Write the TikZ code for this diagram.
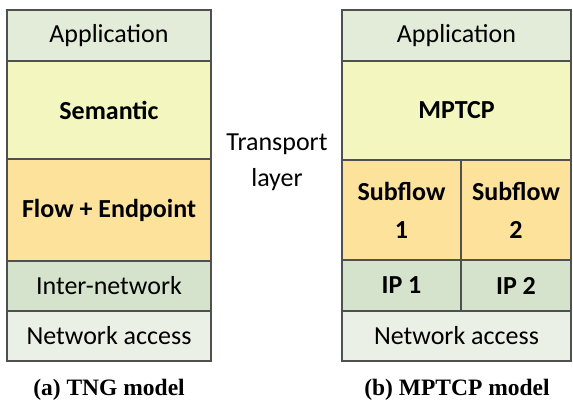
\documentclass[tikz,border=0pt]{standalone}
\usepackage{fontspec}
\setmainfont{Carlito}
\newfontfamily\capfont{Liberation Serif}
\definecolor{appc}{HTML}{E2ECD8}
\definecolor{semc}{HTML}{F3F6BE}
\definecolor{flowc}{HTML}{FDE29C}
\definecolor{netc}{HTML}{D6E3CC}
\definecolor{accc}{HTML}{EAF0E5}
\definecolor{linec}{HTML}{505050}
\tikzset{
  layer/.style={draw=linec, line width=1.3pt, inner sep=0pt, align=center,
    font=\fontsize{26}{38}\selectfont},
  caption/.style={anchor=base, inner sep=0pt, font=\capfont\bfseries\fontsize{23.5}{28}\selectfont}
}
\begin{document}
\begin{tikzpicture}[x=1pt, y=-1pt]
      \useasboundingbox (0,0) rectangle (573,399);
      % TNG model
      \node[layer, fill=appc, minimum width=204pt, minimum height=51pt] (app1) at (109,35.5) {Application};
      \node[layer, fill=semc, minimum width=204pt, minimum height=98pt] (sem1) at (109,110) {\bfseries Semantic};
      \node[layer, fill=flowc, minimum width=204pt, minimum height=102pt] (flow1) at (109,210) {\bfseries Flow + Endpoint};
      \node[layer, fill=netc, minimum width=204pt, minimum height=50pt] (inet1) at (109,286) {Inter-network};
      \node[layer, fill=accc, minimum width=204pt, minimum height=50pt] (acc1) at (109,336) {Network access};
      \node[caption] (cap1) at (109,395) {(a) TNG model};
      \node[inner sep=0pt, align=center, font=\fontsize{26}{36}\selectfont] (tl) at (277,162) {Transport\\layer};
      % MPTCP model
      \node[layer, fill=appc, minimum width=229pt, minimum height=51pt] (app2) at (456.5,35.5) {Application};
      \node[layer, fill=semc, minimum width=229pt, minimum height=99pt] (mp) at (456.5,110.5) {\bfseries MPTCP};
      \node[layer, fill=flowc, minimum width=119pt, minimum height=100pt] (sub1) at (401.5,210) {\bfseries Subflow\\\bfseries 1};
      \node[layer, fill=flowc, minimum width=110pt, minimum height=100pt] (sub2) at (516,210) {\bfseries Subflow\\\bfseries 2};
      \node[layer, fill=netc, minimum width=119pt, minimum height=51pt] (ip1) at (401.5,285.5) {\bfseries IP 1};
      \node[layer, fill=netc, minimum width=110pt, minimum height=51pt] (ip2) at (516,285.5) {\bfseries IP 2};
      \node[layer, fill=accc, minimum width=229pt, minimum height=50pt] (acc2) at (456.5,336) {Network access};
      \node[caption] (cap2) at (457,395) {(b) MPTCP model};
    \end{tikzpicture}
\end{document}
